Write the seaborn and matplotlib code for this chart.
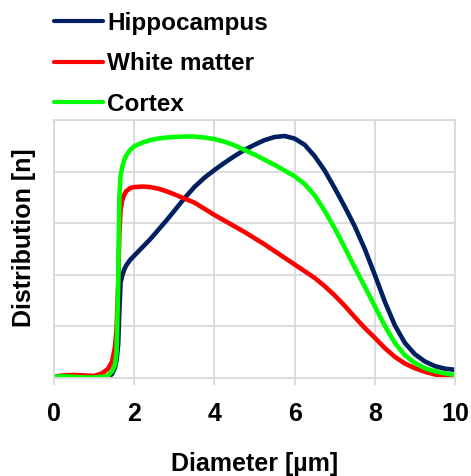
import matplotlib
matplotlib.use("Agg")
import matplotlib.pyplot as plt
import seaborn as sns
import pandas as pd

# ---- data ----
diameter = [0, 0.25, 0.5, 0.75, 1.0, 1.2, 1.35, 1.45, 1.52, 1.56, 1.6, 1.63, 1.66,
            1.7, 1.75, 1.8, 1.9, 2.0, 2.2, 2.4, 2.6, 2.8, 3.0, 3.25, 3.5, 3.75,
            4.0, 4.25, 4.5, 4.75, 5.0, 5.25, 5.5, 5.75, 6.0, 6.25, 6.5, 6.75,
            7.0, 7.25, 7.5, 7.75, 8.0, 8.25, 8.5, 8.75, 9.0, 9.25, 9.5, 9.75, 10.0]

hippocampus = [0.01, 0.005, 0.0, 0.0, 0.0, 0.0, 0.01, 0.08, 0.2, 0.35, 0.65, 1.3, 1.85,
               1.98, 2.1, 2.18, 2.29, 2.37, 2.53, 2.69, 2.87, 3.05, 3.24, 3.48, 3.7, 3.88,
               4.03, 4.17, 4.3, 4.42, 4.52, 4.61, 4.67, 4.69, 4.64, 4.52, 4.3, 4.02,
               3.68, 3.32, 2.94, 2.5, 2.0, 1.48, 1.02, 0.68, 0.46, 0.32, 0.23, 0.18, 0.16]

white_matter = [0.03, 0.05, 0.06, 0.05, 0.04, 0.09, 0.18, 0.32, 0.6, 0.95, 1.8, 2.8, 3.25,
                3.44, 3.55, 3.62, 3.68, 3.7, 3.71, 3.7, 3.67, 3.62, 3.56, 3.48, 3.4, 3.28,
                3.16, 3.05, 2.94, 2.83, 2.71, 2.59, 2.46, 2.33, 2.2, 2.07, 1.94, 1.78,
                1.6, 1.4, 1.18, 0.97, 0.78, 0.58, 0.41, 0.28, 0.19, 0.12, 0.07, 0.035, 0.02]

cortex = [0.03, 0.03, 0.02, 0.01, 0.01, 0.02, 0.05, 0.13, 0.25, 0.5, 1.8, 3.5, 3.92,
          4.08, 4.22, 4.31, 4.42, 4.49, 4.56, 4.61, 4.64, 4.66, 4.67, 4.68, 4.68, 4.66,
          4.63, 4.58, 4.51, 4.42, 4.33, 4.23, 4.13, 4.02, 3.91, 3.76, 3.54, 3.24,
          2.9, 2.53, 2.14, 1.77, 1.39, 1.01, 0.68, 0.44, 0.29, 0.19, 0.13, 0.09, 0.06]

series_names = ["Hippocampus", "White matter", "Cortex"]
series_colors = ["#002060", "#FF0000", "#00FF00"]
x_ticks = [0, 2, 4, 6, 8, 10]
x_label = "Diameter [\u00b5m]"
y_label = "Distribution [n]"

# ---- build table ----
rows = []
for name, vals in zip(series_names, [hippocampus, white_matter, cortex]):
    for xv, yv in zip(diameter, vals):
        rows.append({"Diameter": xv, "Distribution": yv, "Region": name})
df = pd.DataFrame(rows)

sns.set_theme(style="whitegrid")
plt.rcParams["font.family"] = ["Liberation Sans", "DejaVu Sans"]
plt.rcParams["font.weight"] = "bold"
plt.rcParams["text.color"] = "black"
plt.rcParams["axes.labelcolor"] = "black"

fig = plt.figure(figsize=(4.71, 4.76), dpi=100)
W, H = 471, 476
ax = fig.add_axes([54 / W, (H - 378) / H, (455 - 54) / W, (378 - 120) / H])

sns.lineplot(data=df, x="Diameter", y="Distribution", hue="Region",
             hue_order=series_names, palette=series_colors, estimator=None,
             linewidth=3.3, ax=ax, legend=True)
for ln in ax.get_lines():
    ln.set_solid_joinstyle("round")
    ln.set_solid_capstyle("round")

ax.set_xlim(0, 10)
ax.set_ylim(0, 5)
ax.set_xticks(x_ticks)
ax.set_xticklabels([str(t) for t in x_ticks], fontsize=18, fontweight="bold")
ax.set_yticks([0, 1, 2, 3, 4, 5])
ax.set_yticklabels([])
ax.grid(True, color="#d9d9d9", linewidth=1.3)
ax.set_axisbelow(True)
for s in ax.spines.values():
    s.set_color("#d9d9d9")
    s.set_linewidth(1.3)
ax.tick_params(axis="x", length=5, width=1.3, color="#d9d9d9", labelcolor="black",
               pad=12, bottom=True)
ax.tick_params(axis="y", length=0)
ax.set_xlabel(x_label, fontsize=18, fontweight="bold", labelpad=19, color="black")
ax.set_ylabel(y_label, fontsize=18, fontweight="bold", color="black")
ax.yaxis.set_label_coords(-0.045, 0.543)

handles, labels = ax.get_legend_handles_labels()
ax.get_legend().remove()
leg = fig.legend(handles, labels, loc="upper left",
                 bbox_to_anchor=(54 / W, 1 - 12 / H), frameon=False,
                 prop={"size": 17.5, "weight": "bold"}, handlelength=2.0,
                 handletextpad=0.2, labelspacing=0.71, borderpad=0,
                 borderaxespad=0)
for lh in leg.get_lines():
    lh.set_linewidth(3.0)
for t in leg.get_texts():
    t.set_color("black")

fig.savefig("out.png", dpi=100)
